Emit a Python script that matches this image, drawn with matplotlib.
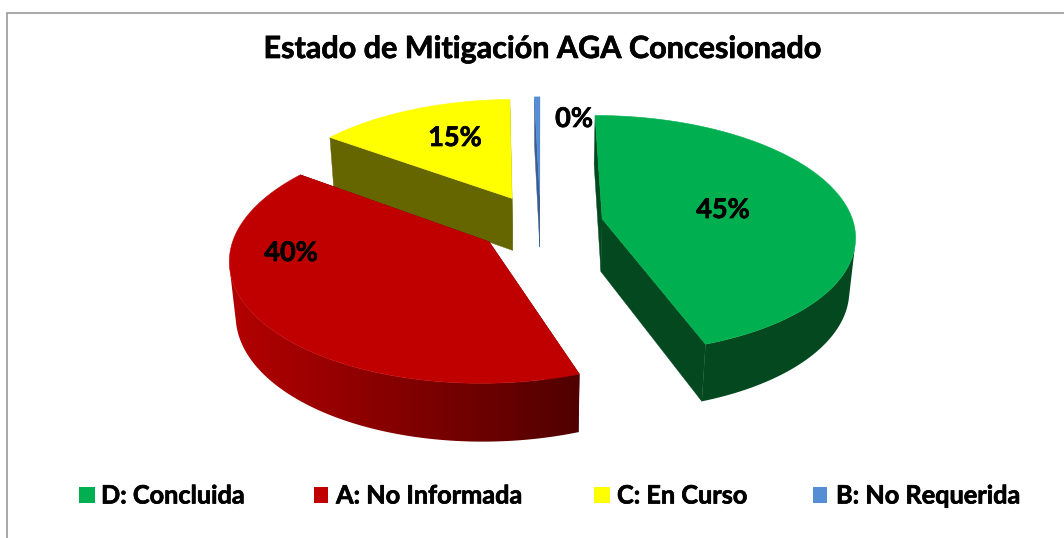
import numpy as np
import matplotlib
matplotlib.use("Agg")
import matplotlib.pyplot as plt
import matplotlib.patheffects as pe
from matplotlib.colors import LinearSegmentedColormap
from matplotlib.patches import Polygon, Rectangle

# --- data -----------------------------------------------------------------
categories = ["D: Concluida", "A: No Informada", "C: En Curso", "B: No Requerida"]
values = [44.6, 40.4, 14.6, 0.4]
title = "Estado de Mitigación AGA Concesionado"

# --- styles ---------------------------------------------------------------
top_colors = ["#00B050", "#C00000", "#FFFF00", "#558ED5"]
face_colors = ["#03481F", "#4F0000", "#666600", "#3D5C8F"]
label_xy = [(723, 210), (291, 253), (455, 138), (574, 119)]
legend_boxes = [(79, 95), (314, 328), (594, 610), (813, 827)]
legend_text_x = [101, 336, 617, 836]

W, H = 1064, 538
CX, CY, A, B, P, DEPTH, Q, EXPLODE = 540.5, 223.8, 251.5, 118.0, 0.13, 54.0, 0.02, 0.25
HEAVY = [pe.withStroke(linewidth=0.5, foreground="black")]

plt.rcParams["font.family"] = ["Lato", "DejaVu Sans"]
fig = plt.figure(figsize=(W / 100, H / 100), dpi=100, facecolor="white")
ax = fig.add_axes([0, 0, 1, 1])
ax.set_xlim(0, W)
ax.set_ylim(H, 0)
ax.axis("off")


def project(x, y, low=False):
    """World pie-plane point to pixel coordinates with a small perspective."""
    w = 1 + P * y + (Q if low else 0)
    return CX + A * x / w, CY + (-B * y + (DEPTH if low else 0)) / w


def area(quad):
    q = np.array(quad)
    xs, ys = q[:, 0], q[:, 1]
    return 0.5 * np.sum(xs * np.roll(ys, -1) - np.roll(xs, -1) * ys)


fracs = np.array(values) / sum(values)
edges = np.concatenate([[0], np.cumsum(fracs)]) * 2 * np.pi
red_cmap = LinearSegmentedColormap.from_list("rim", ["#B40000", "#500000"])

# far slices first
for i in [3, 2, 1, 0]:
    z = 2 + (3 - i) * 3
    t0, t1 = edges[i], edges[i + 1]
    mid = (t0 + t1) / 2
    ox, oy = EXPLODE * np.sin(mid), EXPLODE * np.cos(mid)
    th = np.linspace(t0, t1, 240)
    rim = [(ox + np.sin(t), oy + np.cos(t)) for t in th]
    apex = (ox, oy)

    # cut faces
    for r in (rim[0], rim[-1]):
        quad = [project(*apex), project(*r), project(*r, low=True), project(*apex, low=True)]
        ax.add_patch(Polygon(quad, closed=True, fc=face_colors[i], ec=face_colors[i], lw=0.3, zorder=z))

    # outer rim: the part turned to the viewer, as one shape
    upper, lower = [], []
    for a, b in zip(rim[:-1], rim[1:]):
        quad = [project(*a), project(*b), project(*b, low=True), project(*a, low=True)]
        if area(quad) < 0:
            upper += [quad[0], quad[1]]
            lower += [quad[3], quad[2]]
    if upper:
        outline = upper + lower[::-1]
        if i == 1:
            shape = Polygon(outline, closed=True, fc="none", ec="none", transform=ax.transData)
            ax.add_patch(shape)
            xs = np.array(outline)[:, 0]
            ys = np.array(outline)[:, 1]
            img = ax.imshow(np.linspace(0, 1, 256)[None, :], cmap=red_cmap, aspect="auto",
                            extent=(xs.min(), xs.max(), ys.max(), ys.min()), zorder=z + 1)
            img.set_clip_path(shape)
            ax.set_xlim(0, W)
            ax.set_ylim(H, 0)
        else:
            ax.add_patch(Polygon(outline, closed=True, fc=face_colors[i], ec="none", zorder=z + 1))

    # top face
    top = [project(*apex)] + [project(*r) for r in rim]
    ax.add_patch(Polygon(top, closed=True, fc=top_colors[i], ec=top_colors[i], lw=0.4, zorder=z + 2))

# data labels
for v, (lx, ly) in zip(fracs, label_xy):
    ax.text(lx, ly, f"{round(v * 100)}%", ha="center", va="center", fontsize=19.5,
            fontweight="bold", color="black", zorder=30, path_effects=HEAVY)

ax.text(542, 49, title, ha="center", va="center", fontsize=22.0, fontweight="bold",
        color="black", path_effects=HEAVY)

# chart frame (only left and top fall inside the picture)
ax.plot([7, 7, W], [H, 13, 13], color="#9A9A9A", lw=1.2, zorder=1, solid_joinstyle="miter")

# legend
for name, col, (x0, x1), tx in zip(categories, top_colors, legend_boxes, legend_text_x):
    ax.add_patch(Rectangle((x0, 487), x1 - x0, 16, fc=col, ec="none"))
    ax.text(tx, 496, name, ha="left", va="center", fontsize=18.2, fontweight="bold",
            color="black", path_effects=HEAVY)

fig.savefig("out.png", dpi=100)
